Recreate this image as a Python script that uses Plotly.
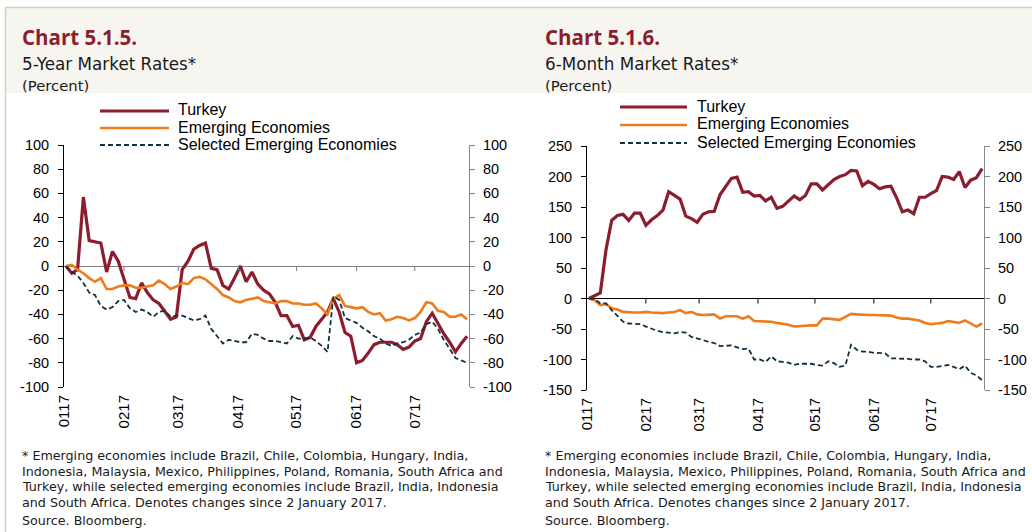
import pandas as pd
import plotly.graph_objects as go

# ---------------- data ----------------
dates = pd.date_range("2017-01-02", periods=70, freq="3D")
month_ticks = ["2017-01-01", "2017-02-01", "2017-03-01", "2017-04-01",
               "2017-05-01", "2017-06-01", "2017-07-01"]
month_labels = ["0117", "0217", "0317", "0417", "0517", "0617", "0717"]
series_names = ["Turkey", "Emerging Economies", "Selected Emerging Economies"]
yticks_5y = [-100, -80, -60, -40, -20, 0, 20, 40, 60, 80, 100]
yticks_6m = [-150, -100, -50, 0, 50, 100, 150, 200, 250]

turkey_5y = [0, -6, -3, 57, 21, 20, 19, -5, 12, 4,
             -12, -26, -27, -14, -22, -28, -31, -38, -44, -42,
             -3, 4, 14, 17, 19, -2, -3, -16, -19, -10,
             0, -13, -5, -15, -20, -23, -30, -41, -41, -50,
             -49, -61, -59, -50, -44, -38, -27, -38, -55, -58,
             -80, -78, -72, -65, -63, -63, -63, -65, -69, -67,
             -62, -60, -46, -39, -48, -56, -63, -71, -64, -58]
em_5y = [0, 1, -3, -6, -10, -13, -10, -19, -19, -17,
         -16, -16, -18, -18, -17, -16, -12, -15, -19, -17,
         -14, -15, -10, -9, -11, -15, -19, -24, -26, -29,
         -30, -28, -27, -26, -29, -30, -31, -29, -29, -31,
         -31, -32, -32, -31, -35, -40, -27, -24, -33, -34,
         -35, -34, -38, -40, -39, -45, -44, -42, -43, -45,
         -43, -38, -30, -31, -37, -38, -42, -42, -40, -44]
sel_5y = [0, -5, -8, -14, -22, -24, -33, -36, -34, -29,
          -28, -35, -38, -36, -38, -42, -38, -37, -42, -41,
          -41, -43, -45, -44, -41, -52, -58, -64, -61, -62,
          -63, -63, -56, -57, -60, -62, -62, -63, -64, -58,
          -60, -60, -59, -62, -66, -71, -25, -28, -43, -45,
          -47, -51, -54, -58, -60, -64, -66, -64, -63, -61,
          -57, -55, -48, -46, -52, -61, -68, -76, -78, -80]

turkey_6m = [0, 5, 9, 80, 128, 136, 138, 128, 140, 140,
             120, 129, 136, 145, 175, 169, 163, 135, 131, 125,
             138, 142, 143, 170, 183, 197, 199, 174, 175, 168,
             169, 160, 166, 148, 151, 160, 168, 162, 169, 188,
             188, 178, 186, 195, 200, 203, 210, 209, 185, 192,
             187, 180, 183, 184, 165, 142, 145, 139, 166, 166,
             172, 177, 200, 199, 195, 208, 182, 194, 198, 213]
em_6m = [0, -3, -11, -9, -16, -18, -22, -23, -23, -23,
         -22, -23, -24, -24, -23, -22, -19, -24, -22, -26,
         -27, -26, -26, -33, -29, -29, -29, -33, -29, -37,
         -37, -37, -38, -40, -41, -43, -46, -45, -45, -44,
         -44, -33, -33, -34, -35, -30, -25, -26, -27, -27,
         -27, -27, -27, -28, -31, -33, -33, -34, -36, -40,
         -42, -41, -40, -37, -38, -40, -36, -41, -46, -41]
sel_6m = [0, -1, -8, -8, -19, -28, -38, -41, -41, -42,
          -46, -50, -53, -55, -56, -57, -55, -56, -63, -65,
          -68, -71, -73, -78, -77, -77, -80, -83, -82, -100,
          -100, -104, -95, -103, -104, -105, -109, -107, -107, -107,
          -109, -110, -103, -106, -112, -110, -76, -84, -87, -87,
          -89, -90, -90, -98, -98, -98, -99, -100, -100, -103,
          -112, -112, -111, -109, -112, -116, -110, -122, -126, -134]

# ---------------- styling ----------------
W, H = 1032, 532
C_TR = "#8C1D2E"
C_EM = "#EE7B1C"
C_SEL = "#14303F"
TITLE_FONT = "Open Sans"
TXT_FONT = "DejaVu Sans"
AX_FONT = "Liberation Sans, Arial, sans-serif"


def px(x):
    return x / W


def py(y):
    return 1 - y / H


fig = go.Figure()

panels = [
    dict(x="x", y="y", y2="y2", data=[turkey_5y, em_5y, sel_5y]),
    dict(x="x2", y="y3", y2="y4", data=[turkey_6m, em_6m, sel_6m]),
]
line_styles = [dict(color=C_TR, width=3.2),
               dict(color=C_EM, width=2.6),
               dict(color=C_SEL, width=1.8, dash="5px,3px")]

for p in panels:
    # transparent copy on the secondary (right-hand) axis so that it is drawn
    fig.add_trace(go.Scatter(x=dates, y=p["data"][0], mode="lines", opacity=0,
                             line=dict(width=0), xaxis=p["x"], yaxis=p["y2"],
                             hoverinfo="skip", showlegend=False))
    for name, vals, ls in zip(series_names, p["data"], line_styles):
        fig.add_trace(go.Scatter(x=dates, y=vals, name=name, mode="lines",
                                 line=ls, xaxis=p["x"], yaxis=p["y"],
                                 showlegend=False))

xcommon = dict(type="date", range=["2017-01-01", "2017-07-29"],
               tickmode="array", tickvals=month_ticks, ticktext=month_labels,
               tickangle=-90, ticks="", showline=False, showgrid=False,
               zeroline=False, automargin=False,
               tickfont=dict(family=AX_FONT, size=15, color="#000"),
               ticklabelstandoff=4)
yleft = dict(showline=True, linecolor="#000", linewidth=1, ticks="outside",
             ticklen=5, tickcolor="#000", showgrid=False, automargin=False,
             tickfont=dict(family=AX_FONT, size=14.5, color="#000"),
             ticklabelstandoff=6)
yright = dict(showline=True, linecolor="#868686", linewidth=1, ticks="outside",
              ticklen=5, tickcolor="#868686", showgrid=False, zeroline=False,
              side="right", automargin=False,
              tickfont=dict(family=AX_FONT, size=14.5, color="#000"),
              ticklabelstandoff=5)


def yt(vals):
    return dict(tickmode="array", tickvals=vals, ticktext=[str(v) for v in vals])


fig.update_layout(
    width=W, height=H, margin=dict(l=0, r=0, t=0, b=0, pad=0, autoexpand=False),
    paper_bgcolor="#FFFFFF", plot_bgcolor="rgba(0,0,0,0)",
    showlegend=False,
    xaxis=dict(domain=[px(64), px(469)], anchor="y", **xcommon),
    yaxis=dict(domain=[py(387), py(145)], anchor="x", range=[-100, 100],
               zeroline=True, zerolinecolor="#7F7F7F", zerolinewidth=1.2,
               **yt(yticks_5y), **yleft),
    yaxis2=dict(overlaying="y", anchor="x", range=[-100, 100],
                **yt(yticks_5y), **yright),
    xaxis2=dict(domain=[px(587), px(984)], anchor="y3", **xcommon),
    yaxis3=dict(domain=[py(390), py(146)], anchor="x2", range=[-150, 250],
                zeroline=True, zerolinecolor="#000", zerolinewidth=1.2,
                **yt(yticks_6m), **yleft),
    yaxis4=dict(overlaying="y3", anchor="x2", range=[-150, 250],
                **yt(yticks_6m), **yright),
)

shapes = []
# header band and frame lines
shapes.append(dict(type="rect", xref="paper", yref="paper", x0=px(6), x1=1,
                   y0=py(93), y1=py(8), fillcolor="#F7F5F0", line=dict(width=0),
                   layer="below"))
shapes.append(dict(type="line", xref="paper", yref="paper", x0=px(5), x1=1,
                   y0=py(7.5), y1=py(7.5), line=dict(color="#D6D0C4", width=1.5),
                   layer="below"))
shapes.append(dict(type="line", xref="paper", yref="paper", x0=px(5.5), x1=px(5.5),
                   y0=0, y1=py(7.5), line=dict(color="#D6D0C4", width=1.5),
                   layer="below"))

# tick marks on the zero line
for xr, yr, col in [("x", "y", "#7F7F7F"), ("x2", "y3", "#000")]:
    for t in month_ticks[1:]:
        shapes.append(dict(type="line", xref=xr, yref=yr, x0=t, x1=t,
                           ysizemode="pixel", yanchor=0, y0=0, y1=-5,
                           line=dict(color=col, width=1)))

annotations = []
headers = [
    (20, "Chart 5.1.5.", "5-Year Market Rates*"),
    (543, "Chart 5.1.6.", "6-Month Market Rates*"),
]
for x0, t, s in headers:
    annotations.append(dict(x=px(x0), y=py(37.5), xref="paper", yref="paper",
                            xanchor="left", yanchor="middle", showarrow=False,
                            text="<b>" + t + "</b>",
                            font=dict(family=TITLE_FONT, size=20.5, color="#8C1D2E")))
    annotations.append(dict(x=px(x0), y=py(63.5), xref="paper", yref="paper",
                            xanchor="left", yanchor="middle", showarrow=False,
                            text=s, font=dict(family=TXT_FONT, size=16.8, color="#1A1A1A")))
    annotations.append(dict(x=px(x0), y=py(85), xref="paper", yref="paper",
                            xanchor="left", yanchor="middle", showarrow=False,
                            text="(Percent)",
                            font=dict(family=TXT_FONT, size=14.8, color="#1A1A1A")))

# manual legends
legend_specs = [
    dict(x0=100, x1=169, tx=176, ys=[111, 128, 145]),
    dict(x0=620, x1=687, tx=695, ys=[107, 125, 143]),
]
for lg in legend_specs:
    for name, ls, yy in zip(series_names, line_styles, lg["ys"]):
        shapes.append(dict(type="line", xref="paper", yref="paper",
                           x0=px(lg["x0"]), x1=px(lg["x1"]), y0=py(yy), y1=py(yy),
                           line=ls))
        annotations.append(dict(x=px(lg["tx"]), y=py(yy - 1), xref="paper", yref="paper",
                                xanchor="left", yanchor="middle", showarrow=False,
                                text=name,
                                font=dict(family=AX_FONT, size=16, color="#000")))

# footnotes
foot_lines = [
    "* Emerging economies include Brazil, Chile, Colombia, Hungary, India,",
    "Indonesia, Malaysia, Mexico, Philippines, Poland, Romania, South Africa and",
    "Turkey, while selected emerging economies include Brazil, India, Indonesia",
    "and South Africa. Denotes changes since 2 January 2017.",
]
foot_y = [455, 471, 486.5, 502]
for x0 in (20, 543):
    for line, yy in zip(foot_lines, foot_y):
        annotations.append(dict(x=px(x0), y=py(yy), xref="paper", yref="paper",
                                xanchor="left", yanchor="middle", showarrow=False,
                                text=line,
                                font=dict(family=TXT_FONT, size=12.7, color="#1A1A1A")))
    annotations.append(dict(x=px(x0), y=py(520.5), xref="paper", yref="paper",
                            xanchor="left", yanchor="middle", showarrow=False,
                            text="Source. Bloomberg.",
                            font=dict(family=TXT_FONT, size=12.7, color="#1A1A1A")))

fig.update_layout(shapes=shapes, annotations=annotations)
fig.write_html("out.html",
               config={"displayModeBar": False},
               post_script="document.body.style.margin='0';"
                           "document.body.style.overflow='hidden';")
